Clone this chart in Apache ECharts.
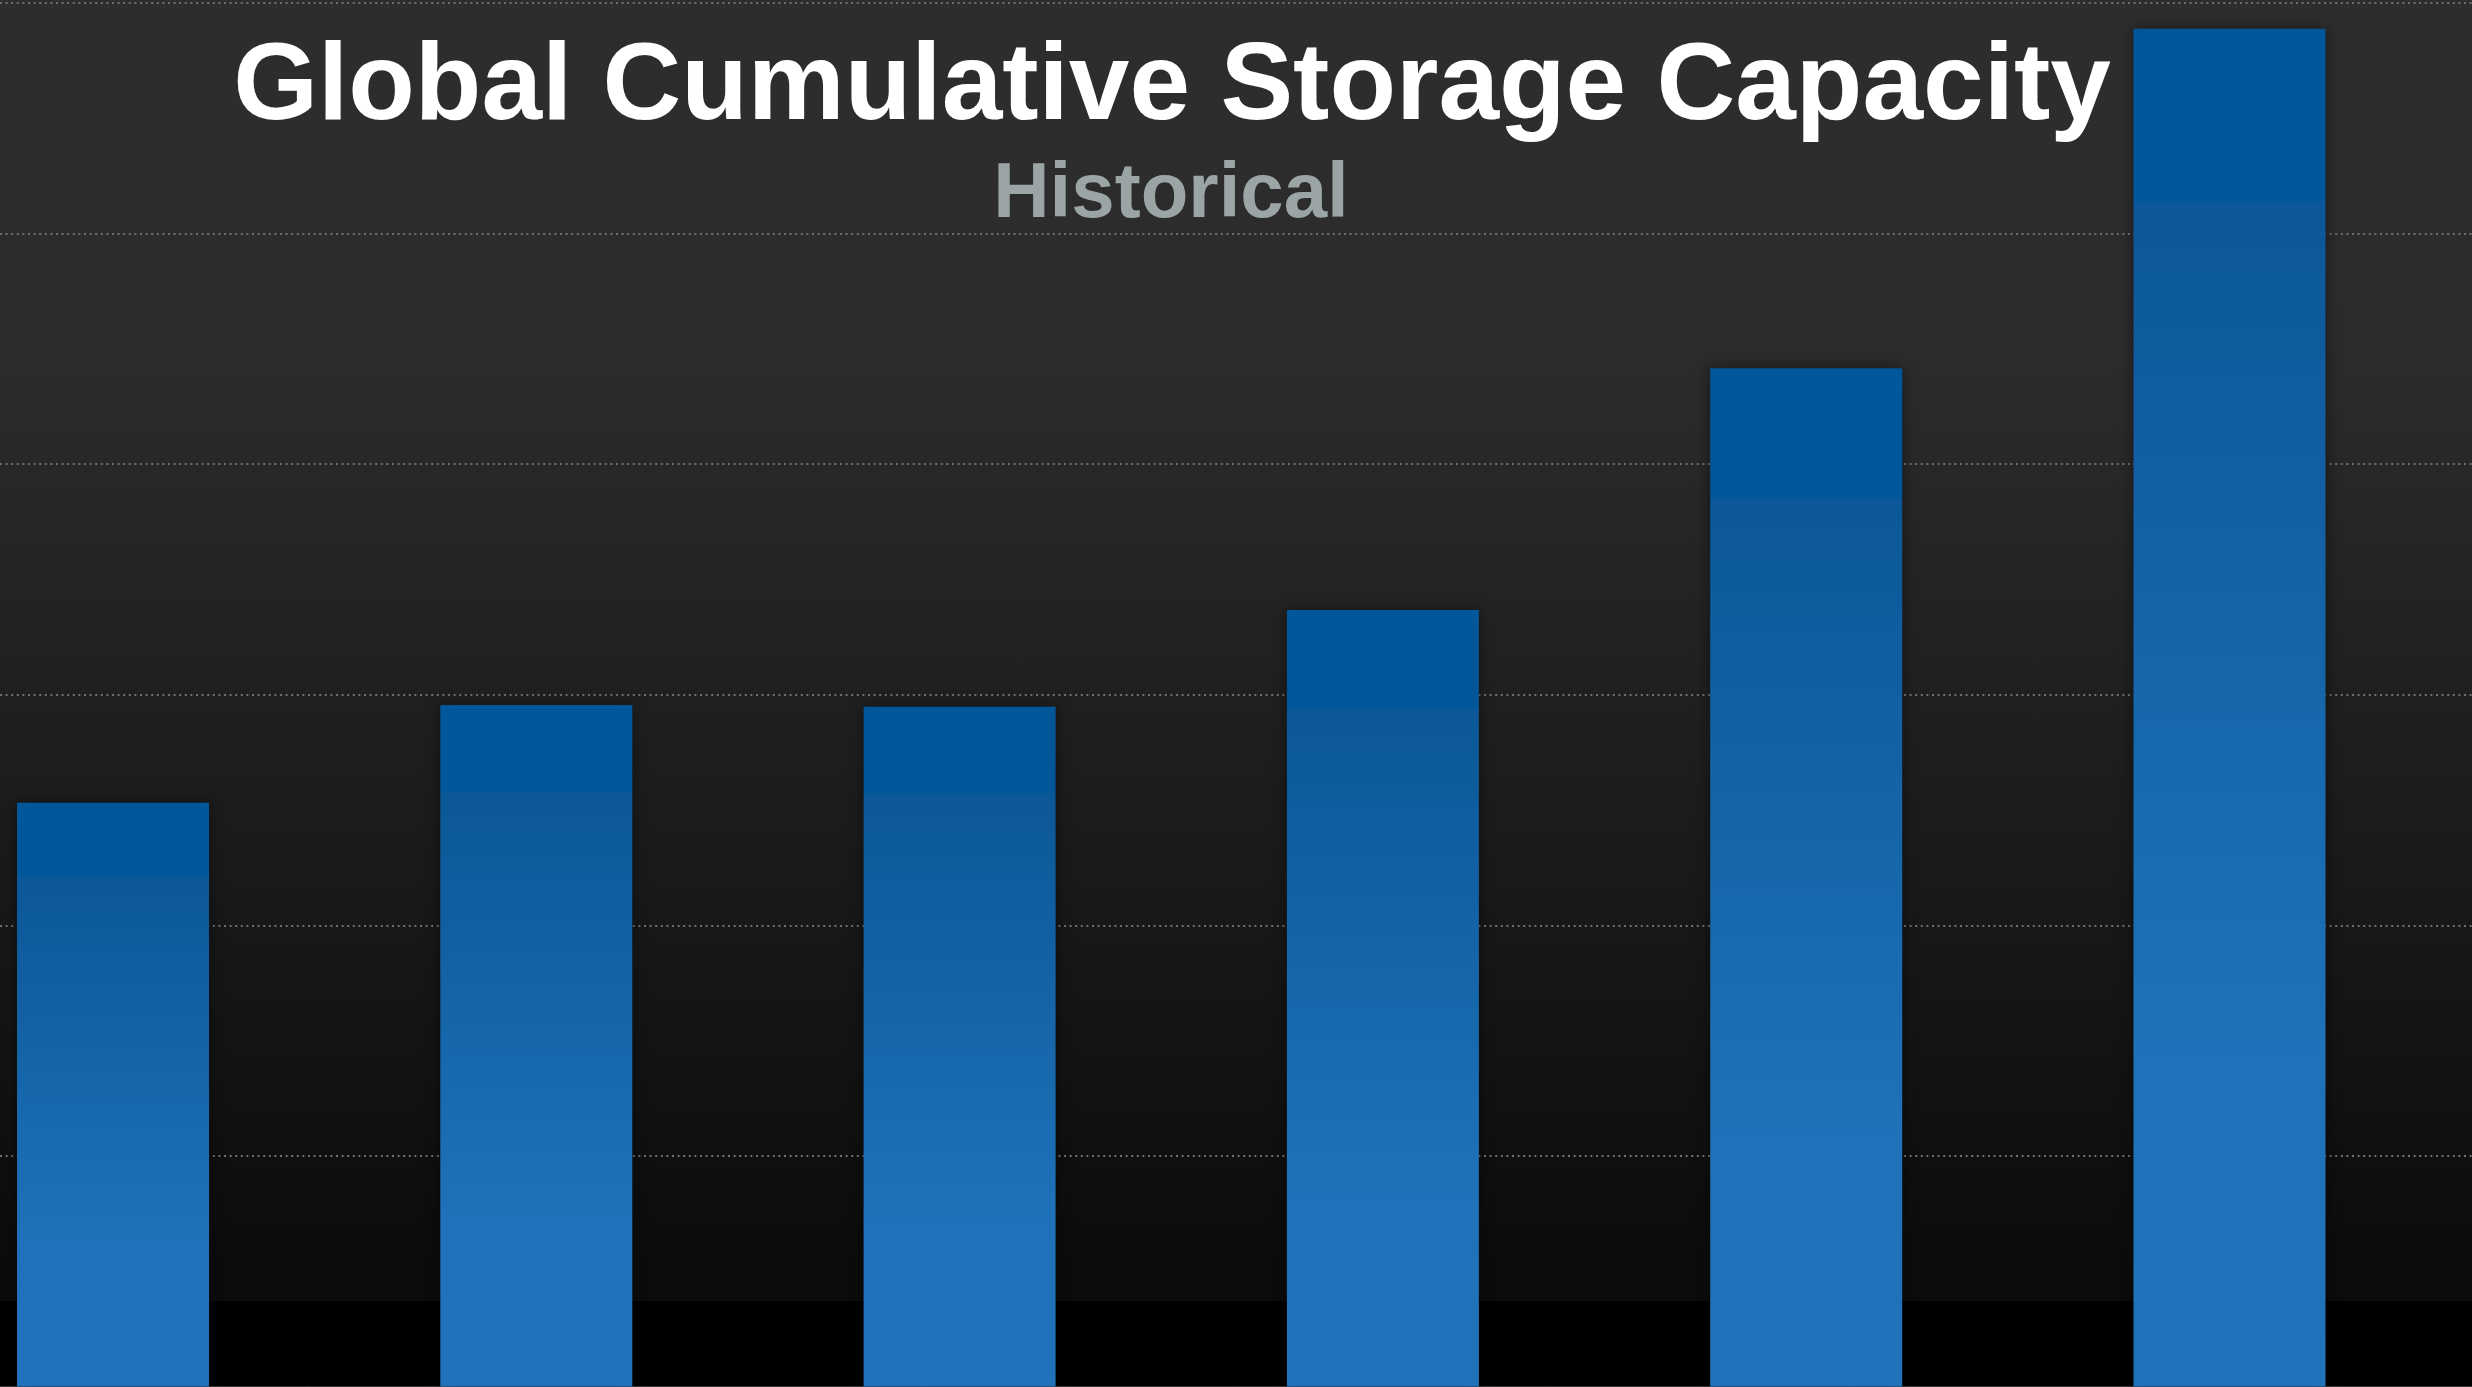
<!DOCTYPE html>
<html>
<head>
<meta charset="utf-8">
<title>Global Cumulative Storage Capacity</title>
<script src="https://cdn.jsdelivr.net/npm/echarts@6/dist/echarts.min.js"></script>
<style>
  html, body {
    margin: 0;
    padding: 0;
    background: #000;
  }
  #chart {
    width: 2472px;
    height: 1387px;
    background: linear-gradient(to bottom, #2d2d2d 0px, #2c2c2c 350px, #0c0c0c 1250px, #0c0c0c 1301px, #000 1301px, #000 1387px);
  }
</style>
</head>
<body>
<div id="chart"></div>
<script>
// values (no axis labels in the original, scale is relative)
const categories = ['P1', 'P2', 'P3', 'P4', 'P5', 'P6']
const capacity = [63.3, 73.9, 73.7, 84.2, 110.4, 147.2]
const yTicks = [0, 25, 50, 75, 100, 125, 150]

const chart = echarts.init(document.getElementById('chart'))

const barGradient = new echarts.graphic.LinearGradient(0, 0, 0, 1, [
  { offset: 0, color: '#02569a' },
  { offset: 0.127, color: '#02569a' },
  { offset: 0.128, color: '#0b5797' },
  { offset: 0.75, color: '#1f71b9' },
  { offset: 1, color: '#2073bb' }
])

const option = {
  backgroundColor: 'transparent',
  animation: false,
  graphic: [
    {
      type: 'text',
      x: 1172,
      y: 89,
      style: {
        text: 'Global Cumulative Storage Capacity',
        fill: '#ffffff',
        font: 'bold 109px "Liberation Sans", Arial, sans-serif',
        align: 'center',
        verticalAlign: 'middle'
      },
      z: 100
    },
    {
      type: 'text',
      x: 1171,
      y: 195,
      style: {
        text: 'Historical',
        fill: '#9ba5a5',
        font: 'bold 78px "Liberation Sans", Arial, sans-serif',
        align: 'center',
        verticalAlign: 'middle'
      },
      z: 100
    }
  ],
  grid: [
    // full-width grid, only carries the dotted gridlines and the base line
    { left: 0, right: 0, top: 3, bottom: 0.5, outerBoundsMode: 'none' },
    // bar grid, wider than the page so the bar spacing matches
    { left: -98.65, width: 2539.8, top: 3, bottom: 0.5, outerBoundsMode: 'none' }
  ],
  xAxis: [
    {
      type: 'category',
      gridIndex: 0,
      data: categories,
      axisLine: { show: true, lineStyle: { color: '#3c3c3c', width: 1 } },
      axisTick: { show: false },
      axisLabel: { show: false },
      splitLine: { show: false }
    },
    {
      type: 'category',
      gridIndex: 1,
      data: categories,
      axisLine: { show: false },
      axisTick: { show: false },
      axisLabel: { show: false },
      splitLine: { show: false }
    }
  ],
  yAxis: [
    {
      type: 'value',
      gridIndex: 0,
      min: yTicks[0],
      max: yTicks[yTicks.length - 1],
      interval: yTicks[1] - yTicks[0],
      axisLine: { show: false },
      axisTick: { show: false },
      axisLabel: { show: false },
      splitLine: {
        show: true,
        lineStyle: { color: '#707070', width: 2, type: [2, 3.6] }
      }
    },
    {
      type: 'value',
      gridIndex: 1,
      min: yTicks[0],
      max: yTicks[yTicks.length - 1],
      interval: yTicks[1] - yTicks[0],
      axisLine: { show: false },
      axisTick: { show: false },
      axisLabel: { show: false },
      splitLine: { show: false }
    }
  ],
  series: [
    {
      name: 'Cumulative storage capacity',
      type: 'bar',
      xAxisIndex: 1,
      yAxisIndex: 1,
      data: capacity,
      barWidth: 192,
      itemStyle: {
        color: barGradient,
        shadowColor: 'rgba(0, 0, 0, 0.45)',
        shadowBlur: 14
      }
    }
  ]
}

chart.setOption(option)
</script>
</body>
</html>
